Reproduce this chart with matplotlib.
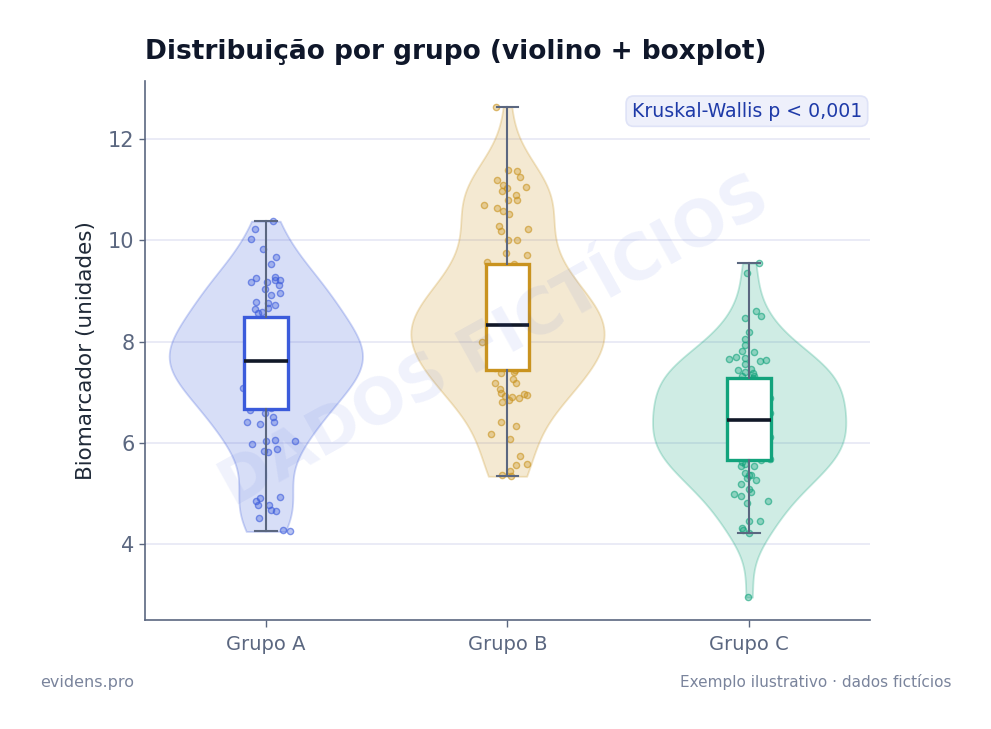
import matplotlib
matplotlib.use("Agg")
import matplotlib.pyplot as plt
from matplotlib.colors import to_rgba
import numpy as np

# ---------------- data ----------------
groups = ["Grupo A", "Grupo B", "Grupo C"]
colors = ["#3b5bdb", "#c9931f", "#12a37c"]

values_A = [10.38, 10.22, 10.02, 9.84, 9.68, 9.54, 9.17, 9.25, 9.17, 9.27, 9.21, 9.21,
            9.11, 9.05, 8.93, 8.97, 8.79, 8.77, 8.72, 8.64, 8.66, 8.57, 8.58,
            6.69, 6.73, 6.81, 6.85, 6.92, 6.96, 7.03, 7.08, 7.11, 7.18, 7.20, 7.26, 7.30,
            7.32, 7.37, 7.41, 7.42, 7.47, 7.50, 7.53, 7.56, 7.59, 7.62, 7.64, 7.69, 7.70,
            7.75, 7.78, 7.79, 7.84, 7.87, 7.90, 7.94, 7.96, 8.02, 8.04, 8.10, 8.12, 8.18,
            8.22, 8.24, 8.30, 8.34, 8.36, 8.41,
            6.65, 6.59, 6.51, 6.42, 6.37, 6.42, 5.97, 6.03, 6.05, 6.03, 5.83, 5.82, 5.87,
            4.92, 4.85, 4.78, 4.94, 4.77, 4.67, 4.65, 4.51, 4.27, 4.25]
jitter_A = [0.030, -0.044, -0.061, -0.011, 0.043, 0.022, -0.061, -0.040, 0.005, 0.039, 0.039, 0.059,
            0.055, -0.003, 0.022, 0.059, -0.040, 0.010, 0.039, -0.044, 0.010, -0.032, -0.015,
            0.02, -0.05, 0.04, -0.02, 0.06, -0.04, 0.01, -0.094, 0.05, -0.06, 0.03, -0.01, 0.055,
            -0.035, 0.015, -0.065, 0.04, 0.0, -0.045, 0.06, -0.02, 0.035, -0.055, 0.01, 0.045, -0.03,
            0.065, -0.01, 0.025, -0.06, 0.05, -0.04, 0.005, 0.035, -0.025, 0.06, -0.05, 0.02, -0.015,
            0.045, -0.065, 0.03, -0.005, 0.055, -0.035,
            -0.066, -0.003, 0.030, -0.077, -0.024, 0.034, -0.057, 0.001, 0.039, 0.121, -0.007, 0.011, 0.047,
            -0.024, -0.040, -0.032, 0.059, 0.014, 0.022, 0.043, -0.028, 0.072, 0.101]

values_B = [12.64, 11.40, 11.38, 11.26, 11.20, 11.09, 11.03, 10.97, 11.05, 10.69, 10.65, 10.59,
            10.53, 10.89, 10.79, 10.79, 10.28, 10.18, 10.22, 10.00, 10.00, 9.76, 9.72, 9.58,
            7.44, 7.47, 7.52, 7.55, 7.61, 7.64, 7.70, 7.73, 7.79, 7.82, 7.88, 7.91, 7.96, 8.00,
            8.03, 8.07, 8.10, 8.14, 8.17, 8.20, 8.22, 8.25, 8.28, 8.31, 8.33, 8.36, 8.40, 8.43,
            8.47, 8.50, 8.55, 8.58, 8.63, 8.67, 8.72, 8.76, 8.81, 8.86, 8.90, 8.95, 9.01, 9.06,
            9.12, 9.18, 9.24, 9.30, 9.37, 9.45, 9.53,
            7.39, 7.41, 7.27, 7.19, 7.19, 7.06, 6.98, 6.92, 6.90, 6.84, 6.80, 6.88, 6.96, 6.94,
            6.42, 6.33, 6.17, 6.07, 5.75, 5.57, 5.59, 5.36, 5.34, 5.44]
jitter_B = [-0.048, 0.001, 0.039, 0.051, -0.044, -0.019, -0.003, -0.024, 0.076, -0.098, -0.044, -0.019,
            0.005, 0.034, 0.039, 0.001, -0.036, -0.028, 0.084, 0.001, 0.039, -0.007, 0.080, -0.086,
            0.03, -0.05, 0.06, -0.02, 0.01, -0.06, 0.045, -0.03, 0.065, -0.01,
            0.02, -0.045, 0.05, -0.106, 0.0, 0.035, -0.065, 0.015, -0.025, 0.055,
            -0.04, 0.025, -0.015, 0.06, -0.055, 0.04, -0.005, 0.03, -0.035, 0.065,
            -0.02, 0.01, -0.06, 0.045, -0.03, 0.02, 0.055, -0.045, 0.005, -0.01,
            0.035, -0.065, 0.05, -0.025, 0.015, -0.05, 0.06, -0.04, 0.025,
            -0.028, 0.026, 0.022, 0.034, -0.053, -0.032, -0.028, -0.011, 0.018, 0.005, -0.024, 0.047,
            0.067, 0.080, -0.028, 0.034, -0.069, 0.010, 0.051, 0.034, 0.080, -0.024, 0.014, 0.010]

values_C = [9.55, 9.35, 8.60, 8.50, 8.46, 8.20, 8.06, 7.94, 7.81, 7.79, 7.65, 7.69, 7.67, 7.55,
            7.61, 7.63, 7.43, 7.41, 7.45, 7.39, 7.33, 7.32,
            5.62, 5.67, 5.69, 5.73, 5.75, 5.81, 5.83, 5.88, 5.90, 5.95, 5.98, 6.00, 6.05, 6.07,
            6.11, 6.15, 6.17, 6.22, 6.24, 6.30, 6.32, 6.38, 6.40, 6.45, 6.48, 6.53, 6.55, 6.60,
            6.64, 6.66, 6.71, 6.73, 6.79, 6.80, 6.86, 6.88, 6.93, 6.95, 7.01, 7.03, 7.09, 7.11,
            7.17, 7.19, 7.25, 7.29,
            5.55, 5.59, 5.55, 5.40, 5.37, 5.36, 5.30, 5.26, 5.18, 5.08, 5.02, 4.98, 4.96, 4.82,
            4.86, 4.45, 4.45, 4.31, 4.27, 4.21, 2.95]
jitter_C = [0.039, -0.011, 0.030, 0.051, -0.016, 0.001, -0.016, -0.016, -0.028, 0.018, -0.082, -0.053,
            -0.016, -0.016, 0.043, 0.068, -0.048, -0.019, 0.009, 0.014, 0.022, -0.030,
            -0.03, 0.05, 0.088, -0.06, 0.02, -0.01, 0.06, -0.045, 0.03, -0.02,
            0.045, -0.065, 0.01, -0.035, 0.088, 0.04, -0.05, 0.0, 0.055, -0.025,
            0.015, -0.06, 0.035, -0.01, 0.05, -0.04, 0.025, 0.088, -0.055, 0.005,
            0.06, -0.03, 0.02, -0.05, 0.04, 0.088, -0.015, 0.03, -0.065, 0.045,
            -0.02, 0.01, -0.045, 0.055, -0.035, 0.015,
            -0.032, -0.016, 0.018, -0.019, 0.001, 0.009, -0.011, 0.030, -0.032, 0.001, 0.009, -0.061,
            -0.032, -0.007, 0.080, 0.001, 0.046, -0.028, -0.024, 0.001, -0.003]

yticks = [4, 6, 8, 10, 12]
title = "Distribuição por grupo (violino + boxplot)"
ylabel = "Biomarcador (unidades)"
stat_text = "Kruskal-Wallis p < 0,001"
watermark = "DADOS FICTÍCIOS"
footer_left = "evidens.pro"
footer_right = "Exemplo ilustrativo · dados fictícios"

# ---------------- figure ----------------
plt.rcParams['font.family'] = ['DejaVu Sans']
fig = plt.figure(figsize=(9.91, 7.29), dpi=100)
ax = fig.add_axes([0.1463, 0.1495, 0.7316, 0.7394])

datasets = [values_A, values_B, values_C]
jitters = [jitter_A, jitter_B, jitter_C]
positions = np.arange(len(groups))

vp = ax.violinplot(datasets, positions=positions, widths=0.8,
                   showmeans=False, showmedians=False, showextrema=False)
for body, c in zip(vp['bodies'], colors):
    body.set_facecolor(to_rgba(c, 0.2))
    body.set_edgecolor(to_rgba(c, 0.25))
    body.set_linewidth(1.3)
    body.set_alpha(None)
    body.set_zorder(1)

for pos, vals, jit, c in zip(positions, datasets, jitters, colors):
    ax.scatter(pos + np.array(jit), vals, s=20,
               facecolors=[to_rgba(c, 0.35)], edgecolors=[to_rgba(c, 0.6)],
               linewidths=1.0, zorder=2)

bp = ax.boxplot(datasets, positions=positions, widths=0.18, patch_artist=True,
                showfliers=False, whis=1.5, zorder=3,
                medianprops=dict(color="#111827", linewidth=2.6),
                whiskerprops=dict(color="#5b6780", linewidth=1.5),
                capprops=dict(color="#5b6780", linewidth=1.5))
for patch, c in zip(bp['boxes'], colors):
    patch.set_facecolor("white")
    patch.set_edgecolor(c)
    patch.set_linewidth(2.4)

ax.set_xlim(-0.5, 2.5)
ax.set_ylim(2.5, 13.15)
ax.set_xticks(positions)
ax.set_xticklabels(groups)
ax.set_yticks(yticks)

ax.yaxis.grid(True, color="#e4e6f4", linewidth=1.1)
ax.set_axisbelow(True)
for s in ["top", "right"]:
    ax.spines[s].set_visible(False)
for s in ["left", "bottom"]:
    ax.spines[s].set_color("#5b6780")
    ax.spines[s].set_linewidth(1.2)
ax.tick_params(axis="y", colors="#5b6780", labelsize=15, length=4, width=1)
ax.tick_params(axis="x", colors="#5b6780", labelsize=14, length=5, width=1, pad=6)
ax.set_ylabel(ylabel, fontsize=15.5, color="#1f2937", labelpad=9)

fig.text(0.1463, 1 - 59 / 729, title, fontsize=19, fontweight="bold", color="#0f172a",
         ha="left", va="baseline")

ax.text(0.989, 0.944, stat_text, transform=ax.transAxes, ha="right", va="center",
        fontsize=13.6, color="#1e3aa8",
        bbox=dict(boxstyle="round,pad=0.3,rounding_size=0.4", facecolor="#eef0fb",
                  edgecolor="#dfe3f7", linewidth=1.2))

ax.text(0.483, 0.515, watermark, transform=ax.transAxes, ha="center", va="center",
        fontsize=45, fontweight="bold", rotation=29, color="#3b5bdb", alpha=0.08,
        zorder=10)

fig.text(40 / 991, 1 - 682 / 729, footer_left, fontsize=11.5, color="#7a849c",
         ha="left", va="center")
fig.text(952 / 991, 1 - 682 / 729, footer_right, fontsize=11, color="#7a849c",
         ha="right", va="center")

fig.savefig("out.png", dpi=100, facecolor="white")
